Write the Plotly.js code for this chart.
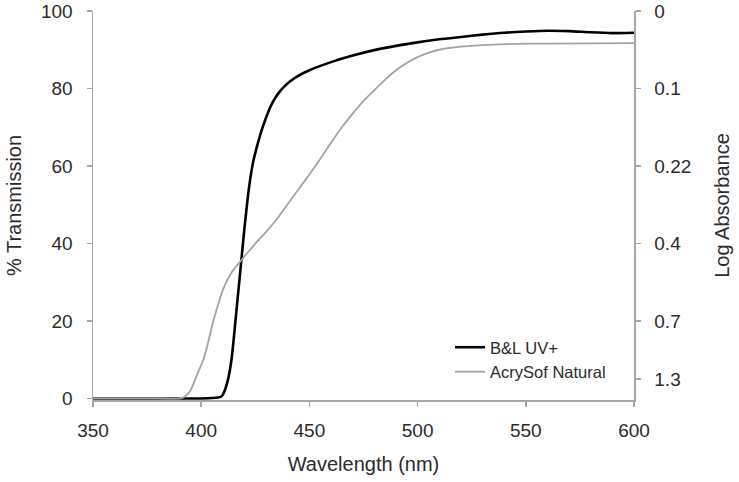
<!DOCTYPE html>
<html>
<head>
<meta charset="utf-8">
<script src="https://cdn.plot.ly/plotly-3.0.1.min.js"></script>
<style>
  html, body { margin: 0; padding: 0; background: #fff; }
  #chart { width: 739px; height: 482px; }
</style>
</head>
<body>
<div id="chart"></div>
<script>
// B&L UV+ transmission curve (black)
const blWavelength = [350, 380, 400, 405, 409, 410, 412, 414, 416, 418, 420, 422, 424, 426, 428, 430, 432, 434, 436, 438, 441, 445, 450, 460, 470, 480, 490, 500, 510, 520, 530, 540, 550, 560, 570, 580, 590, 600];
const blTransmission = [0, 0, 0, 0.1, 0.4, 1, 4, 10, 21, 32.5, 44, 54, 61, 65.5, 69.3, 72.5, 75.3, 77.4, 79, 80.3, 81.8, 83.3, 84.7, 86.8, 88.5, 89.9, 91, 91.9, 92.7, 93.3, 93.9, 94.4, 94.7, 94.9, 94.8, 94.5, 94.3, 94.4];

// AcrySof Natural transmission curve (grey)
const acWavelength = [350, 380, 390, 392, 395, 398, 401, 403, 405.6, 408, 410, 414, 418.7, 422, 426, 430, 435, 440, 445, 450, 455, 460, 465, 470, 475, 480, 485, 490, 495, 500, 505, 510, 520, 530, 545, 560, 600];
const acTransmission = [0, 0, 0, 0.3, 2, 6, 10, 14, 20, 24.5, 28, 32.5, 35.8, 38, 40.6, 43, 46.3, 50.2, 54, 57.8, 61.8, 66, 70, 73.5, 76.8, 79.6, 82.3, 84.7, 86.6, 88.1, 89.2, 90, 90.8, 91.2, 91.5, 91.6, 91.7];

// right axis: log absorbance at the matching transmission levels
const absTickPos = [100, 80, 60, 40, 20, 5];
const absTickText = ['0', '0.1', '0.22', '0.4', '0.7', '1.3'];

const axisGrey = '#a6a6a6';
const textColor = '#2b2b2b';
const fontFamily = 'Liberation Sans, Arial, sans-serif';

const traces = [
  {
    x: blWavelength, y: blTransmission,
    type: 'scatter', mode: 'lines',
    name: 'B&L UV+',
    line: { color: '#000000', width: 2.6, shape: 'spline', smoothing: 0.6 }
  },
  {
    x: acWavelength, y: acTransmission,
    type: 'scatter', mode: 'lines',
    name: 'AcrySof Natural',
    line: { color: '#a3a3a3', width: 1.8, shape: 'spline', smoothing: 0.6 }
  },
  {
    // empty trace so the right axis gets drawn
    x: [null], y: [null], yaxis: 'y2',
    type: 'scatter', mode: 'lines',
    showlegend: false, hoverinfo: 'skip'
  }
];

const layout = {
  width: 739,
  height: 482,
  margin: { l: 93, r: 105, t: 11, b: 82 },
  paper_bgcolor: '#ffffff',
  plot_bgcolor: '#ffffff',
  font: { family: fontFamily, color: textColor, size: 19 },
  showlegend: true,
  legend: {
    x: 0.66, y: 0.18, xanchor: 'left', yanchor: 'top',
    bgcolor: 'rgba(0,0,0,0)',
    font: { size: 16.5, color: textColor },
    tracegroupgap: 0
  },
  xaxis: {
    range: [350, 600],
    tickvals: [350, 400, 450, 500, 550, 600],
    showgrid: false, zeroline: false,
    showline: true, linecolor: axisGrey, linewidth: 1.5,
    ticks: 'outside', ticklen: 5, tickcolor: axisGrey, tickwidth: 1.5,
    ticklabelstandoff: 8,
    title: { text: 'Wavelength (nm)', font: { size: 20 }, standoff: 16 }
  },
  yaxis: {
    range: [-0.4, 100],
    tickvals: [0, 20, 40, 60, 80, 100],
    showgrid: false, zeroline: false,
    showline: true, linecolor: axisGrey, linewidth: 1.5,
    ticks: 'outside', ticklen: 5, tickcolor: axisGrey, tickwidth: 1.5,
    ticklabelstandoff: 10,
    title: { text: '% Transmission', font: { size: 20 }, standoff: 14 }
  },
  yaxis2: {
    overlaying: 'y', side: 'right',
    range: [-0.4, 100],
    tickvals: absTickPos, ticktext: absTickText,
    showgrid: false, zeroline: false,
    showline: true, linecolor: axisGrey, linewidth: 1.5,
    ticks: 'outside', ticklen: 5, tickcolor: axisGrey, tickwidth: 1.5,
    ticklabelstandoff: 10,
    title: { text: 'Log Absorbance', font: { size: 20 }, standoff: 24 }
  }
};

Plotly.newPlot('chart', traces, layout, { staticPlot: true });
</script>
</body>
</html>
